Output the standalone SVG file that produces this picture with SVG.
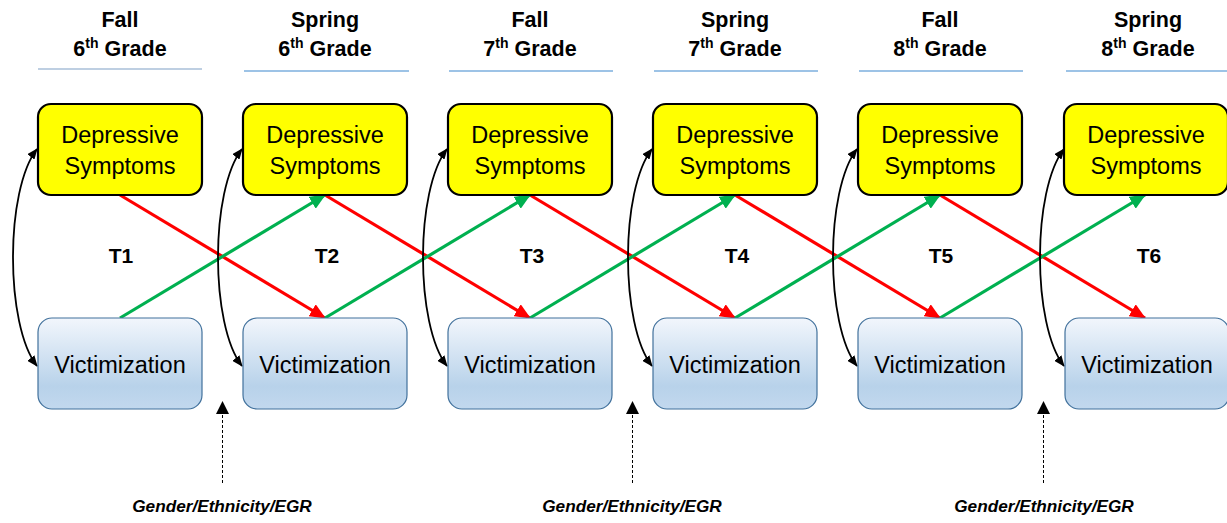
<svg xmlns="http://www.w3.org/2000/svg" width="1227" height="523" viewBox="0 0 1227 523">
  <style>
    text { font-family: "Liberation Sans", Arial, sans-serif; text-anchor: middle; fill: #000; }
    .hdr { font-size: 21.5px; font-weight: bold; }
    .sup { font-size: 14px; }
    .box { font-size: 23.5px; }
    .t { font-size: 21px; font-weight: bold; }
    .cov { font-size: 17.2px; font-weight: bold; font-style: italic; }
    .dep { fill: #ffff00; stroke: #000; stroke-width: 2.2; }
    .vic { fill: url(#vicFill); stroke: #41719c; stroke-width: 1.2; }
    .rule-f { stroke: #7f9fc6; stroke-width: 1.2; }
    .rule-s { stroke: #9dc3e6; stroke-width: 1.8; }
    .red { stroke: #ff0000; stroke-width: 3.2; fill: none; }
    .grn { stroke: #00b050; stroke-width: 3.2; fill: none; }
    .cor { stroke: #000; stroke-width: 1.8; fill: none; }
    .dash { stroke: #000; stroke-width: 1; stroke-dasharray: 3 2; fill: none; }
  </style>
  <defs>
    <linearGradient id="vicFill" x1="0" y1="0" x2="0" y2="1">
      <stop offset="0" stop-color="#f2f6fc"/>
      <stop offset="0.75" stop-color="#b8d2ea"/>
      <stop offset="1" stop-color="#c2d8ee"/>
    </linearGradient>
    <marker id="headRed" markerUnits="userSpaceOnUse" markerWidth="16" markerHeight="14" viewBox="0 0 16 14" refX="15" refY="7" orient="auto">
      <path d="M0,0 L16,7 L0,14 Z" fill="#ff0000"/>
    </marker>
    <marker id="headGrn" markerUnits="userSpaceOnUse" markerWidth="16" markerHeight="14" viewBox="0 0 16 14" refX="15" refY="7" orient="auto">
      <path d="M0,0 L16,7 L0,14 Z" fill="#00b050"/>
    </marker>
    <marker id="headBlk" markerUnits="userSpaceOnUse" markerWidth="11" markerHeight="9" viewBox="0 0 11 9" refX="10" refY="4.5" orient="auto-start-reverse">
      <path d="M0,0 L11,4.5 L0,9 Z" fill="#000"/>
    </marker>
    <marker id="headCov" markerUnits="userSpaceOnUse" markerWidth="13" markerHeight="13" viewBox="0 0 13 13" refX="12" refY="6.5" orient="auto">
      <path d="M0,0 L13,6.5 L0,13 Z" fill="#000"/>
    </marker>
  </defs>

  <!-- wave headers -->
  <g id="headers">
    <text class="hdr" x="120" y="27">Fall</text>
    <text class="hdr" x="120" y="56">6<tspan class="sup" dy="-8">th</tspan><tspan dy="8"> Grade</tspan></text>
    <line class="rule-f" x1="38" y1="69" x2="202" y2="69"/>
    <text class="hdr" x="325" y="27">Spring</text>
    <text class="hdr" x="325" y="56">6<tspan class="sup" dy="-8">th</tspan><tspan dy="8"> Grade</tspan></text>
    <line class="rule-s" x1="244" y1="71" x2="409" y2="71"/>
    <text class="hdr" x="530" y="27">Fall</text>
    <text class="hdr" x="530" y="56">7<tspan class="sup" dy="-8">th</tspan><tspan dy="8"> Grade</tspan></text>
    <line class="rule-s" x1="449" y1="71" x2="613" y2="71"/>
    <text class="hdr" x="735" y="27">Spring</text>
    <text class="hdr" x="735" y="56">7<tspan class="sup" dy="-8">th</tspan><tspan dy="8"> Grade</tspan></text>
    <line class="rule-s" x1="654" y1="71" x2="818" y2="71"/>
    <text class="hdr" x="940" y="27">Fall</text>
    <text class="hdr" x="940" y="56">8<tspan class="sup" dy="-8">th</tspan><tspan dy="8"> Grade</tspan></text>
    <line class="rule-s" x1="859" y1="71" x2="1023" y2="71"/>
    <text class="hdr" x="1148" y="27">Spring</text>
    <text class="hdr" x="1148" y="56">8<tspan class="sup" dy="-8">th</tspan><tspan dy="8"> Grade</tspan></text>
    <line class="rule-s" x1="1066" y1="71" x2="1227" y2="71"/>
  </g>

  <!-- connectors -->
  <g id="connectors">
    <!-- cross-lagged: depressive symptoms -> later victimization -->
    <line class="red" x1="120" y1="195" x2="325" y2="318" marker-end="url(#headRed)"/>
    <line class="red" x1="325" y1="195" x2="530" y2="318" marker-end="url(#headRed)"/>
    <line class="red" x1="530" y1="195" x2="735" y2="318" marker-end="url(#headRed)"/>
    <line class="red" x1="735" y1="195" x2="940" y2="318" marker-end="url(#headRed)"/>
    <line class="red" x1="940" y1="195" x2="1145" y2="318" marker-end="url(#headRed)"/>
    <!-- cross-lagged: victimization -> later depressive symptoms -->
    <line class="grn" x1="120" y1="318" x2="325" y2="195" marker-end="url(#headGrn)"/>
    <line class="grn" x1="325" y1="318" x2="530" y2="195" marker-end="url(#headGrn)"/>
    <line class="grn" x1="530" y1="318" x2="735" y2="195" marker-end="url(#headGrn)"/>
    <line class="grn" x1="735" y1="318" x2="940" y2="195" marker-end="url(#headGrn)"/>
    <line class="grn" x1="940" y1="318" x2="1145" y2="195" marker-end="url(#headGrn)"/>
    <!-- within-wave correlations -->
    <path class="cor" d="M37,149 C5,190 5,325 37,366" marker-start="url(#headBlk)" marker-end="url(#headBlk)"/>
    <path class="cor" d="M242,149 C210,190 210,325 242,366" marker-start="url(#headBlk)" marker-end="url(#headBlk)"/>
    <path class="cor" d="M447,149 C415,190 415,325 447,366" marker-start="url(#headBlk)" marker-end="url(#headBlk)"/>
    <path class="cor" d="M652,149 C620,190 620,325 652,366" marker-start="url(#headBlk)" marker-end="url(#headBlk)"/>
    <path class="cor" d="M857,149 C825,190 825,325 857,366" marker-start="url(#headBlk)" marker-end="url(#headBlk)"/>
    <path class="cor" d="M1064,149 C1032,190 1032,325 1064,366" marker-start="url(#headBlk)" marker-end="url(#headBlk)"/>
    <!-- covariates -->
    <line class="dash" x1="222.5" y1="483" x2="222.5" y2="402" marker-end="url(#headCov)"/>
    <line class="dash" x1="632.5" y1="483" x2="632.5" y2="402" marker-end="url(#headCov)"/>
    <line class="dash" x1="1043.5" y1="483" x2="1043.5" y2="402" marker-end="url(#headCov)"/>
  </g>

  <!-- depressive symptoms nodes -->
  <g id="dep1"><rect class="dep" x="38" y="104" width="164" height="91" rx="13"/><text class="box" x="120" y="143">Depressive</text><text class="box" x="120" y="174">Symptoms</text></g>
  <g id="dep2"><rect class="dep" x="243" y="104" width="164" height="91" rx="13"/><text class="box" x="325" y="143">Depressive</text><text class="box" x="325" y="174">Symptoms</text></g>
  <g id="dep3"><rect class="dep" x="448" y="104" width="164" height="91" rx="13"/><text class="box" x="530" y="143">Depressive</text><text class="box" x="530" y="174">Symptoms</text></g>
  <g id="dep4"><rect class="dep" x="653" y="104" width="164" height="91" rx="13"/><text class="box" x="735" y="143">Depressive</text><text class="box" x="735" y="174">Symptoms</text></g>
  <g id="dep5"><rect class="dep" x="858" y="104" width="164" height="91" rx="13"/><text class="box" x="940" y="143">Depressive</text><text class="box" x="940" y="174">Symptoms</text></g>
  <g id="dep6"><rect class="dep" x="1064" y="104" width="164" height="91" rx="13"/><text class="box" x="1146" y="143">Depressive</text><text class="box" x="1146" y="174">Symptoms</text></g>

  <!-- victimization nodes -->
  <g id="vic1"><rect class="vic" x="38" y="318" width="164" height="91" rx="14"/><text class="box" x="120" y="373">Victimization</text></g>
  <g id="vic2"><rect class="vic" x="243" y="318" width="164" height="91" rx="14"/><text class="box" x="325" y="373">Victimization</text></g>
  <g id="vic3"><rect class="vic" x="448" y="318" width="164" height="91" rx="14"/><text class="box" x="530" y="373">Victimization</text></g>
  <g id="vic4"><rect class="vic" x="653" y="318" width="164" height="91" rx="14"/><text class="box" x="735" y="373">Victimization</text></g>
  <g id="vic5"><rect class="vic" x="858" y="318" width="164" height="91" rx="14"/><text class="box" x="940" y="373">Victimization</text></g>
  <g id="vic6"><rect class="vic" x="1065" y="318" width="164" height="91" rx="14"/><text class="box" x="1147" y="373">Victimization</text></g>

  <!-- time labels -->
  <g id="times">
    <text class="t" x="121" y="263">T1</text>
    <text class="t" x="327" y="263">T2</text>
    <text class="t" x="532" y="263">T3</text>
    <text class="t" x="737" y="263">T4</text>
    <text class="t" x="941" y="263">T5</text>
    <text class="t" x="1149" y="263">T6</text>
  </g>

  <!-- covariate labels -->
  <g id="covariates">
    <text class="cov" x="222" y="512">Gender/Ethnicity/EGR</text>
    <text class="cov" x="632" y="512">Gender/Ethnicity/EGR</text>
    <text class="cov" x="1044" y="512">Gender/Ethnicity/EGR</text>
  </g>
</svg>
